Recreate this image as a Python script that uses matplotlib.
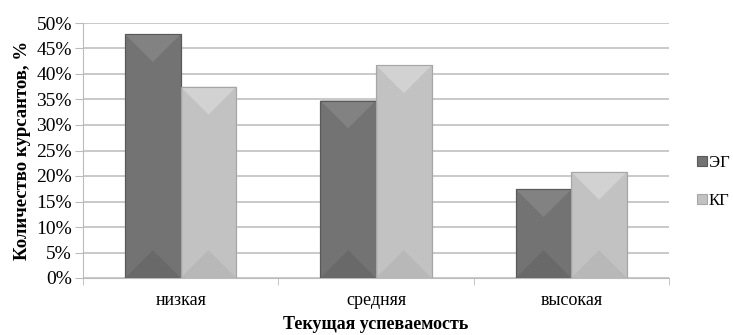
import matplotlib
matplotlib.use("Agg")
import matplotlib.pyplot as plt
import numpy as np
from matplotlib.patches import Polygon

categories = ["низкая", "средняя", "высокая"]
series_names = ["ЭГ", "КГ"]
eg_values = [47.8, 34.8, 17.4]
kg_values = [37.5, 41.7, 20.8]
yticks = [0, 5, 10, 15, 20, 25, 30, 35, 40, 45, 50]

plt.rcParams['font.family'] = ['Liberation Serif', 'DejaVu Serif']

fig = plt.figure(figsize=(7.33, 3.35), dpi=100)
ax = fig.add_axes([83/733, 1-278/335, (669-83)/733, (278-23)/335])

x = np.arange(len(categories))
w = 0.285
face = ["#737373", "#c2c2c2"]
edge = ["#595959", "#a6a6a6"]
light = ["#828282", "#d2d2d2"]
dark = ["#696969", "#b8b8b8"]

px_per_x = (669 - 83) / 3.0
px_per_y = 255 / 50.0

for i, vals in enumerate([eg_values, kg_values]):
    offs = x + (i - 0.5) * w
    bars = ax.bar(offs, vals, width=w, color=face[i], edgecolor=edge[i],
                  linewidth=0.8, label=series_names[i], zorder=3)
    for b in bars:
        x0, x1 = b.get_x(), b.get_x() + b.get_width()
        y1 = b.get_height()
        xm = (x0 + x1) / 2
        dy = (b.get_width() / 2) * px_per_x / px_per_y
        dy = min(dy, y1 / 2)
        top = Polygon([[x0, y1], [x1, y1], [xm, y1 - dy]], closed=True,
                      facecolor=light[i], edgecolor='none', zorder=3.5)
        bot = Polygon([[x0, 0], [x1, 0], [xm, dy]], closed=True,
                      facecolor=dark[i], edgecolor='none', zorder=3.5)
        ax.add_patch(top)
        ax.add_patch(bot)
        ax.bar(xm, y1, width=b.get_width(), fill=False,
               edgecolor=edge[i], linewidth=0.8, zorder=4)

ax.set_xlim(-0.5, 2.5)
ax.set_ylim(0, 50)
ax.set_yticks(yticks)
ax.set_yticklabels([f"{t}%" for t in yticks], fontsize=14)
ax.set_xticks(x)
ax.set_xticklabels(categories, fontsize=13)
ax.set_xticks([-0.5, 0.5, 1.5, 2.5], minor=True)
ax.tick_params(axis='x', which='major', length=0, pad=10)
ax.tick_params(axis='x', which='minor', length=5, color='#bbbbbb')
ax.tick_params(axis='y', length=6, color='#bbbbbb', pad=2)
ax.grid(axis='y', color='#c0c0c0', linewidth=1.2, zorder=0)
for s in ['top', 'right']:
    ax.spines[s].set_visible(False)
ax.spines['left'].set_color('#bbbbbb')
ax.spines['bottom'].set_color('#bbbbbb')

ax.set_ylabel("Количество курсантов, %", fontsize=13.5, fontweight='bold', labelpad=4)
ax.set_xlabel("Текущая успеваемость", fontsize=13, fontweight='bold', labelpad=5)

handles, labels = ax.get_legend_handles_labels()
fig.legend(handles, labels, loc='center left', bbox_to_anchor=(694/733, 1-182/335),
           frameon=False, fontsize=12, handlelength=0.55, handleheight=0.55,
           handletextpad=0.15, labelspacing=1.3, borderaxespad=0, borderpad=0.2)

fig.savefig("out.png", dpi=100)
